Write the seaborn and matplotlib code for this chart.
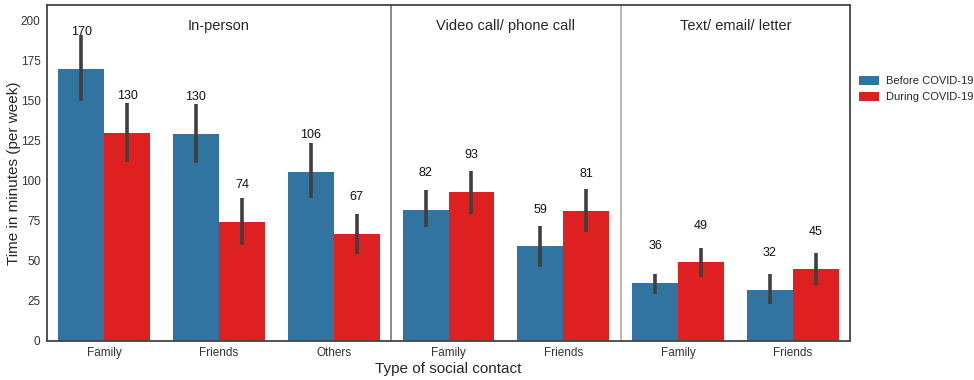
import pandas as pd
import seaborn as sns
import matplotlib.pyplot as plt
import numpy as np

# Values
contacts = ['Family', 'Friends', 'Others', 'Family', 'Friends', 'Family', 'Friends']
groups = ['In-person', 'Video call/ phone call', 'Text/ email/ letter']
periods = ['Before COVID-19', 'During COVID-19']
before = [170, 129.5, 105.5, 82, 59, 36, 32]
during = [130, 74.5, 67, 93, 81, 49, 45]
before_lo = [150, 111, 89, 71, 46, 29, 23]
before_hi = [191, 148, 124, 94, 72, 42, 42]
during_lo = [112, 60, 54, 79, 68, 40, 35]
during_hi = [149, 89, 79, 106, 95, 58, 55]
labels_before = ['170', '130', '106', '82', '59', '36', '32']
labels_during = ['130', '74', '67', '93', '81', '49', '45']

sns.set_style('white')
plt.rcParams['font.family'] = ['Liberation Sans', 'DejaVu Sans']

# unique slot per bar pair so repeated labels stay apart
slots = [str(i) for i in range(len(contacts))]
df = pd.DataFrame({
    'slot': slots * 2,
    'period': [periods[0]] * len(slots) + [periods[1]] * len(slots),
    'minutes': before + during,
})

fig, ax = plt.subplots(figsize=(9.74, 3.8), dpi=100)
sns.barplot(data=df, x='slot', y='minutes', hue='period', order=slots,
            hue_order=periods, palette=['#1f77b4', 'red'], errorbar=None,
            linewidth=0, ax=ax)

# error bars and value labels at the bar centres
bar_sets = [(before_lo, before_hi, labels_before, before),
            (during_lo, during_hi, labels_during, during)]
for container, (lo, hi, labs, vals) in zip(ax.containers, bar_sets):
    for bar, l, h, lab, v in zip(container, lo, hi, labs, vals):
        cx = bar.get_x() + bar.get_width() / 2
        ax.plot([cx, cx], [l, h], color='#3f3f3f', lw=2.6, solid_capstyle='butt', zorder=3)
        ax.text(cx, v + 23, lab, ha='center', va='center', fontsize=9, color='#111111')

ax.axvline(2.5, color='#777777', lw=1.2)
ax.axvline(4.5, color='#aaaaaa', lw=1.2)
for x, g in zip([1, 3.5, 5.5], groups):
    ax.text(x, 197, g, ha='center', va='center', fontsize=10.5, color='#262626')

ax.set_xlim(-0.5, len(contacts) - 0.5)
ax.set_ylim(0, 210)
ax.set_xticks(range(len(contacts)))
ax.set_xticklabels(contacts)
ax.tick_params(axis='both', labelsize=8.5, colors='#333333', pad=1)
ax.set_xlabel('Type of social contact', fontsize=11, labelpad=2)
ax.set_ylabel('Time in minutes (per week)', fontsize=11, labelpad=0)
for s in ax.spines.values():
    s.set_color('#444444')
    s.set_linewidth(1.3)

ax.legend(loc='center left', bbox_to_anchor=(1.0, 0.75), frameon=False, fontsize=8,
          handlelength=1.8, handleheight=0.9, handletextpad=0.6, borderaxespad=0.4)

fig.subplots_adjust(left=0.048, right=0.873, top=0.987, bottom=0.103)
fig.savefig('out.png')
